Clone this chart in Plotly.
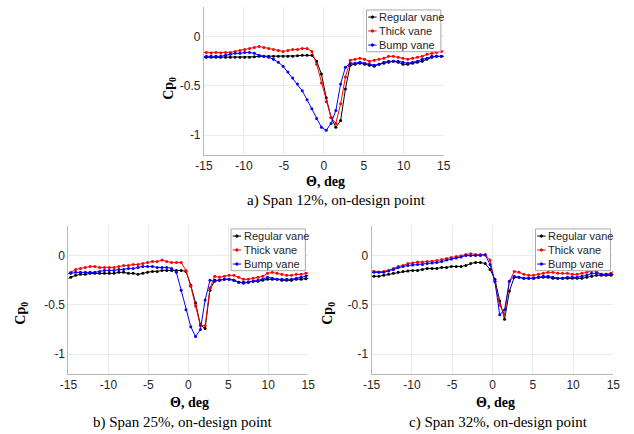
import plotly.graph_objects as go

# ---------------- data ----------------
theta = [-15.3, -14.7, -14.1, -13.5, -12.9, -12.3, -11.7, -11.1, -10.5, -9.9, -9.3, -8.7, -8.1,
         -7.5, -6.9, -6.3, -5.7, -5.1, -4.5, -3.9, -3.3, -2.7, -2.1, -1.5, -0.9, -0.3,
         0.3, 0.9, 1.5, 2.1, 2.7, 3.3, 3.9, 4.5, 5.1, 5.7, 6.3, 6.9, 7.5,
         8.1, 8.7, 9.3, 9.9, 10.5, 11.1, 11.7, 12.3, 12.9, 13.5, 14.1, 14.7, 15.3]

series_names = ["Regular vane", "Thick vane", "Bump vane"]
series_colors = ["#000000", "#ff0000", "#0000ff"]

# a) Span 12%
a_regular = [-0.21, -0.21, -0.21, -0.21, -0.21, -0.21, -0.21, -0.21, -0.21, -0.21, -0.21, -0.205, -0.2,
             -0.2, -0.2, -0.2, -0.2, -0.2, -0.2, -0.2, -0.195, -0.19, -0.19, -0.19, -0.25, -0.38,
             -0.62, -0.82, -0.92, -0.85, -0.53, -0.29, -0.28, -0.27, -0.28, -0.29, -0.3, -0.28, -0.27,
             -0.26, -0.25, -0.26, -0.28, -0.28, -0.27, -0.26, -0.25, -0.23, -0.21, -0.2, -0.2, -0.2]
a_thick = [-0.16, -0.16, -0.165, -0.16, -0.165, -0.16, -0.16, -0.15, -0.14, -0.13, -0.12, -0.11, -0.1,
           -0.11, -0.12, -0.13, -0.14, -0.15, -0.14, -0.13, -0.13, -0.12, -0.12, -0.15, -0.28, -0.47,
           -0.66, -0.82, -0.88, -0.68, -0.41, -0.24, -0.23, -0.22, -0.23, -0.25, -0.24, -0.23, -0.22,
           -0.2, -0.2, -0.21, -0.22, -0.23, -0.22, -0.21, -0.2, -0.18, -0.17, -0.16, -0.15, -0.14]
a_bump = [-0.2, -0.2, -0.2, -0.2, -0.2, -0.19, -0.18, -0.17, -0.17, -0.16, -0.16, -0.17, -0.19,
          -0.2, -0.21, -0.23, -0.26, -0.3, -0.36, -0.42, -0.48, -0.55, -0.64, -0.73, -0.83, -0.92,
          -0.95, -0.88, -0.75, -0.48, -0.31, -0.27, -0.27, -0.26, -0.27, -0.28, -0.29, -0.28, -0.26,
          -0.25, -0.25, -0.25, -0.26, -0.27, -0.26, -0.25, -0.23, -0.22, -0.2, -0.2, -0.2, -0.2]

# b) Span 25%
b_regular = [-0.24, -0.22, -0.2, -0.19, -0.19, -0.18, -0.18, -0.18, -0.18, -0.18, -0.18, -0.17, -0.17,
             -0.18, -0.18, -0.19, -0.18, -0.17, -0.16, -0.16, -0.15, -0.15, -0.15, -0.15, -0.15, -0.16,
             -0.3, -0.48, -0.7, -0.74, -0.35, -0.25, -0.25, -0.24, -0.24, -0.25, -0.27, -0.27, -0.27,
             -0.26, -0.26, -0.25, -0.24, -0.24, -0.24, -0.25, -0.25, -0.25, -0.24, -0.24, -0.235, -0.23]
b_thick = [-0.19, -0.17, -0.14, -0.13, -0.12, -0.11, -0.11, -0.12, -0.12, -0.12, -0.12, -0.11, -0.1,
           -0.1, -0.09, -0.09, -0.08, -0.07, -0.06, -0.06, -0.045, -0.06, -0.07, -0.07, -0.07, -0.15,
           -0.31, -0.51, -0.71, -0.71, -0.33, -0.21, -0.22, -0.21, -0.2, -0.2, -0.22, -0.24, -0.24,
           -0.23, -0.22, -0.21, -0.18, -0.17, -0.18, -0.19, -0.2, -0.2, -0.19, -0.19, -0.18, -0.17]
b_bump = [-0.18, -0.18, -0.17, -0.17, -0.17, -0.17, -0.17, -0.16, -0.15, -0.15, -0.15, -0.14, -0.14,
          -0.13, -0.13, -0.12, -0.11, -0.11, -0.11, -0.12, -0.12, -0.12, -0.13, -0.17, -0.35, -0.55,
          -0.72, -0.82, -0.75, -0.45, -0.25, -0.26, -0.25, -0.24, -0.24, -0.25, -0.27, -0.28, -0.27,
          -0.26, -0.25, -0.24, -0.22, -0.23, -0.24, -0.24, -0.24, -0.24, -0.23, -0.22, -0.21, -0.19]

# c) Span 32%
c_regular = [-0.21, -0.21, -0.21, -0.2, -0.19, -0.18, -0.17, -0.16, -0.155, -0.15, -0.15, -0.14, -0.13,
             -0.13, -0.13, -0.12, -0.12, -0.11, -0.11, -0.11, -0.1, -0.08, -0.07, -0.07, -0.08, -0.14,
             -0.24, -0.46, -0.645, -0.36, -0.22, -0.22, -0.23, -0.23, -0.23, -0.22, -0.22, -0.22, -0.23,
             -0.23, -0.23, -0.23, -0.23, -0.23, -0.23, -0.22, -0.21, -0.2, -0.2, -0.2, -0.2, -0.19]
c_thick = [-0.15, -0.16, -0.165, -0.16, -0.15, -0.13, -0.11, -0.1, -0.08, -0.075, -0.065, -0.065, -0.06,
           -0.06, -0.05, -0.04, -0.03, -0.02, -0.01, -0.005, 0.01, 0.02, 0.01, 0.01, 0.01, -0.045,
           -0.26, -0.5, -0.6, -0.26, -0.16, -0.17, -0.19, -0.2, -0.2, -0.19, -0.18, -0.17, -0.17,
           -0.18, -0.18, -0.18, -0.19, -0.19, -0.18, -0.17, -0.15, -0.16, -0.19, -0.19, -0.18, -0.14]
c_bump = [-0.17, -0.17, -0.17, -0.17, -0.155, -0.14, -0.12, -0.11, -0.1, -0.095, -0.09, -0.09, -0.08,
          -0.075, -0.07, -0.06, -0.045, -0.035, -0.025, -0.015, 0.0, 0.0, 0.0, 0.0, 0.005, -0.09,
          -0.26, -0.6, -0.55, -0.26, -0.21, -0.22, -0.23, -0.23, -0.23, -0.22, -0.21, -0.21, -0.22,
          -0.23, -0.23, -0.22, -0.22, -0.22, -0.21, -0.2, -0.18, -0.18, -0.19, -0.19, -0.19, -0.19]

x_tick_vals = [-15, -10, -5, 0, 5, 10, 15]
x_tick_labels = ["-15", "-10", "-5", "0", "5", "10", "15"]
y_tick_vals = [-1, -0.5, 0]
y_tick_labels = ["-1", "-0.5", "0"]

captions = ["a) Span 12%, on-design point", "b) Span 25%, on-design point", "c) Span 32%, on-design point"]
x_title = "Θ, deg"
y_title = "Cp<sub>0</sub>"

W, H = 634, 434
panels = [
    dict(data=[a_regular, a_thick, a_bump], ax="", xdom=[200/W, 446/W], ydom=[1-155/H, 1-7/H],
         cap=(336/W, 1-200/H), xt=(325/W, 1-181/H), yt=(164/W, 1-88/H)),
    dict(data=[b_regular, b_thick, b_bump], ax="2", xdom=[61/W, 307/W], ydom=[1-374/H, 1-226/H],
         cap=(178/W, 1-422/H), xt=(185/W, 1-402/H), yt=(12/W, 1-313/H)),
    dict(data=[c_regular, c_thick, c_bump], ax="3", xdom=[372/W, 620/W], ydom=[1-374/H, 1-226/H],
         cap=(502/W, 1-422/H), xt=(499/W, 1-402/H), yt=(327/W, 1-313/H)),
]

fig = go.Figure()
layout = dict(width=W, height=H, autosize=False, margin=dict(l=0, r=0, t=0, b=0, pad=0),
              paper_bgcolor="white", plot_bgcolor="white", showlegend=False)
annotations = []
shapes = []

tick_font = dict(family="Liberation Sans, Arial, sans-serif", size=12, color="#262626")
serif = "Liberation Serif, Times New Roman, serif"

for i, p in enumerate(panels):
    xa = "x" + p["ax"]
    ya = "y" + p["ax"]
    for s, vals in enumerate(p["data"]):
        fig.add_trace(go.Scatter(
            x=theta, y=vals, xaxis=xa, yaxis=ya, mode="lines+markers",
            name=series_names[s], line=dict(color=series_colors[s], width=1),
            marker=dict(color=series_colors[s], size=3), showlegend=False))
    layout["xaxis" + p["ax"]] = dict(
        domain=p["xdom"], anchor=ya, range=[-15, 15], tickvals=x_tick_vals, ticktext=x_tick_labels,
        showgrid=True, gridcolor="#ebebeb", gridwidth=1, zeroline=False, showline=True,
        linecolor="#b8b8b8", linewidth=1, ticks="", tickfont=tick_font)
    layout["yaxis" + p["ax"]] = dict(
        domain=p["ydom"], anchor=xa, range=[-1.2, 0.3], tickvals=y_tick_vals, ticktext=y_tick_labels,
        showgrid=True, gridcolor="#ebebeb", gridwidth=1, zeroline=False, showline=True,
        linecolor="#b8b8b8", linewidth=1, ticks="", tickfont=tick_font)

    # captions and axis titles
    annotations.append(dict(text=captions[i], x=p["cap"][0], y=p["cap"][1], xref="paper", yref="paper",
                            xanchor="center", yanchor="middle", showarrow=False,
                            font=dict(family=serif, size=15, color="black")))
    annotations.append(dict(text="<b>" + x_title + "</b>", x=p["xt"][0], y=p["xt"][1], xref="paper",
                            yref="paper", xanchor="center", yanchor="middle", showarrow=False,
                            font=dict(family=serif, size=14, color="black")))
    annotations.append(dict(text="<b>" + y_title + "</b>", x=p["yt"][0], y=p["yt"][1], xref="paper",
                            yref="paper", xanchor="center", yanchor="middle", showarrow=False,
                            textangle=-90, font=dict(family=serif, size=14, color="black")))

    # legend box (drawn in axis-domain coordinates)
    xr = xa + " domain"
    yr = ya + " domain"
    shapes.append(dict(type="rect", xref=xr, yref=yr, x0=0.678, x1=0.988, y0=0.698, y1=0.98,
                       line=dict(color="#a8a8a8", width=1), fillcolor="white", layer="above"))
    rows = [0.932, 0.838, 0.743]
    for s in range(3):
        shapes.append(dict(type="line", xref=xr, yref=yr, x0=0.685, x1=0.72, y0=rows[s], y1=rows[s],
                           line=dict(color=series_colors[s], width=1), layer="above"))
        shapes.append(dict(type="circle", xref=xr, yref=yr, x0=0.7025 - 0.005, x1=0.7025 + 0.005,
                           y0=rows[s] - 0.008, y1=rows[s] + 0.008,
                           line=dict(color=series_colors[s], width=1), fillcolor=series_colors[s],
                           layer="above"))
        annotations.append(dict(text=series_names[s], xref=xr, yref=yr, x=0.722, y=rows[s],
                                xanchor="left", yanchor="middle", showarrow=False,
                                font=dict(family="Liberation Sans, Arial, sans-serif", size=11,
                                          color="#262626")))

layout["annotations"] = annotations
layout["shapes"] = shapes
fig.update_layout(**layout)
fig.write_html("out.html", config={"responsive": False, "displayModeBar": False},
               post_script="document.body.style.margin='0';document.body.style.overflow='hidden';")
